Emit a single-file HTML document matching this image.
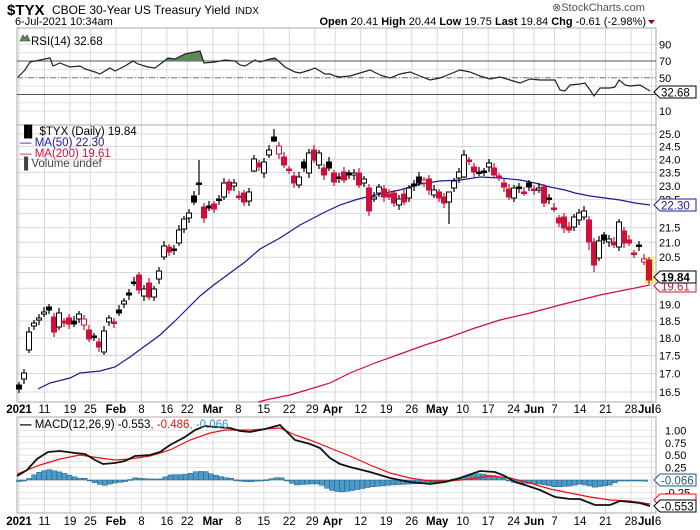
<!DOCTYPE html>
<html><head><meta charset="utf-8"><style>
body{margin:0;background:#fff}
svg{display:block;font-family:"Liberation Sans",sans-serif}
</style></head><body>
<svg id="c" width="700" height="530" xmlns="http://www.w3.org/2000/svg">
<rect width="700" height="530" fill="#fff"/>
<g id="grid"></g>
<g id="layer"></g>
<text x="7" y="15" font-size="15" font-weight="bold">$TYX</text>
<text x="52" y="14" font-size="12">CBOE 30-Year US Treasury Yield</text>
<text x="235" y="14" font-size="10">INDX</text>
<text x="552" y="11" font-size="11" fill="#555">⊗StockCharts.com</text>
<text x="15" y="25" font-size="11">6-Jul-2021 10:34am</text>
<text x="646" y="25" font-size="11" text-anchor="end"><tspan font-weight="bold">Open</tspan> 20.41 <tspan font-weight="bold">High</tspan> 20.44 <tspan font-weight="bold">Low</tspan> 19.75 <tspan font-weight="bold">Last</tspan> 19.84 <tspan font-weight="bold">Chg</tspan> -0.61 (-2.98%)</text>
<path d="M648,20 l7,0 l-3.5,4z" fill="#8b0020"/>
</svg>
<script>
const NS="http://www.w3.org/2000/svg";
const G=document.getElementById('grid'),L=document.getElementById('layer');
function el(p,t,a,txt){const e=document.createElementNS(NS,t);for(const k in a)e.setAttribute(k,a[k]);if(txt!==undefined)e.textContent=txt;p.appendChild(e);return e;}
const X0=17,X1=656;
const py=p=>2132.9-621*Math.log(p);
const ry=v=>119.5-0.835*v;
const my=v=>480-49.6*v;
const days=[0,5,10,14,19,24,29,33,38,43,48,53,58,62,67,72,77,82,87,92,97,101,105,110,115,120,124];
const vx=days.map(d=>X0+2+d*5.1);
const panels=[[28,125],[125,402],[417,513]];
for(const [a,b] of panels){for(const x of vx)el(G,'line',{x1:x,x2:x,y1:a,y2:b,stroke:'#d8d8d8','stroke-width':1});}
for(let v=10;v<=90;v+=10)el(G,'line',{x1:X0,x2:X1,y1:ry(v),y2:ry(v),stroke:'#e0e0e0'});
for(let p=16.5;p<=25.01;p+=0.5){const y=py(p);el(G,'line',{x1:X0,x2:X1,y1:y,y2:y,stroke:'#d8d8d8'});
 if(Math.abs(p-19.5)>0.1&&Math.abs(p-22)>0.1&&Math.abs(p-20)>0.1)el(G,'text',{x:659,y:y+4,'font-size':11},p.toFixed(1));}
for(let v=-0.5;v<=1.01;v+=0.125){el(G,'line',{x1:X0,x2:X1,y1:my(v),y2:my(v),stroke:'#e2e2e2'});}
[[1,'1.00'],[0.75,'0.75'],[0.5,'0.50'],[0.25,'0.25'],[-0.25,'-0.25']].forEach(([v,t])=>el(G,'text',{x:665,y:my(v)+4,'font-size':11},t));
[[90,'90'],[70,'70'],[50,'50'],[10,'10']].forEach(([v,t])=>el(G,'text',{x:659,y:ry(v)+4,'font-size':11},t));
for(const [a,b] of panels)el(G,'rect',{x:X0,y:a,width:X1-X0,height:b-a,fill:'none',stroke:'#aaa'});
el(G,'line',{x1:X0,x2:X1,y1:ry(70),y2:ry(70),stroke:'#555'});
el(G,'line',{x1:X0,x2:X1,y1:ry(30),y2:ry(30),stroke:'#555'});
el(G,'line',{x1:X0,x2:X1,y1:ry(50),y2:ry(50),stroke:'#777','stroke-dasharray':'6,2,1,2'});
const labs=[[0,'2021',1],[5,'11'],[10,'19'],[14,'25'],[19,'Feb',1],[24,'8'],[29,'16'],[33,'22'],[38,'Mar',1],[43,'8'],[48,'15'],[53,'22'],[57.5,'29'],[61.5,'Apr',1],[67,'12'],[72,'19'],[77,'26'],[82,'May',1],[87,'10'],[92,'17'],[97,'24'],[101,'Jun',1],[105,'7'],[110,'14'],[115,'21'],[120,'28'],[123,'Jul',1],[125.3,'6']];
for(const yy of [413,525])for(const [d,t,b] of labs)el(G,'text',{x:X0+2+d*5.1,y:yy,'font-size':11.5,'text-anchor':'middle','font-weight':b?'bold':'normal'},t);
const rsi=[[18,77],[25,70],[30,62],[40,60],[50,58],[53,66],[60,63],[70,67],[80,66],[85,69],[95,72],[100,74],[110,68],[115,71],[125,66],[133,61],[138,64],[148,67],[155,68],[163,62],[168,58],[175,59],[185,54],[200,51],[204,63],[215,62],[225,60],[235,61],[240,65],[245,66],[255,60],[260,62],[270,59],[275,58],[285,67],[295,72],[300,73],[310,70],[315,68],[320,71],[325,74],[330,74],[335,76],[340,77],[350,76],[360,73],[370,70],[380,75],[390,78],[400,74],[410,72],[420,76],[430,80],[440,78],[450,74],[460,70],[470,72],[480,76],[490,79],[500,77],[510,80],[520,83],[530,79],[540,80],[555,80],[560,90],[565,91],[570,85],[580,84],[585,83],[590,90],[594,96],[600,88],[610,88],[615,87],[619,80],[625,85],[630,86],[640,85],[645,88],[650,91]];
el(L,'path',{d:'M163,61 L168,58 L175,59 L185,54 L200,51 L204,61 Z',fill:'#5e8a5a'});
el(L,'path',{d:'M266,61 L270,59 L275,58 L280,61 Z',fill:'#5e8a5a'});
el(L,'polyline',{points:rsi.map(p=>p.join(',')).join(' '),fill:'none',stroke:'#222','stroke-width':1.2});
el(L,'path',{d:'M20,41 l3,-6 l2,3 l2,-3 l3,6z',fill:'#5e8a5a',stroke:'#333','stroke-width':0.6});
el(L,'text',{x:31,y:45,'font-size':11.5},'RSI(14) 32.68');
const ma50=[[38,389],[50,383],[70,378],[80,373],[100,371],[115,367],[130,357],[145,346],[160,335],[175,321],[185,311],[200,296],[215,284],[230,273],[245,262],[260,249],[280,238],[300,225],[325,212],[340,205],[355,200],[370,196],[385,193],[400,190],[420,184],[440,181],[460,180],[480,177],[500,178],[520,180],[535,183],[550,187],[565,190],[575,193],[590,196],[605,198],[620,200],[635,203],[650,205]];
const ma200=[[258,402],[270,399],[290,395],[310,389],[330,383],[350,373],[375,363],[400,354],[425,345],[450,337],[475,328],[500,320],[530,313],[560,305],[580,300],[600,295],[625,290],[650,285]];
el(L,'polyline',{points:ma50.map(p=>p.join(',')).join(' '),fill:'none',stroke:'#1a1a9a','stroke-width':1.2});
el(L,'polyline',{points:ma200.map(p=>p.join(',')).join(' '),fill:'none',stroke:'#d0103a','stroke-width':1.2});
const C=`19:385:389:B 24:373:379:W 29:332:350:W 34:323:326:W 39:318:320:W 44:312:314:W 49:307:310:B 54:317:332:R 59:313:327:W 64:321:323:R 69:318:324:R 74:321:324:B 79:314:319:W 84:319:325:H 89:330:339:R 94:336:337:B 99:342:347:R 104:331:352:W 109:318:322:W 114:322:323:R 119:310:313:B 124:301:304:W 129:293:295:B 134:282:283:B 139:275:290:R 144:289:296:W 149:283:297:R 154:289:297:W 159:271:279:W 164:246:257:W 169:247:252:R 174:249:250:B 179:230:243:W 184:219:229:W 189:213:218:W 194:196:202:B 199:183:184:B 204:207:218:R 209:206:208:B 214:204:209:R 219:199:200:B 224:183:197:W 229:182:190:R 234:183:186:W 239:196:197:R 244:193:202:R 249:192:201:W 254:159:171:W 259:163:167:R 264:162:173:W 269:150:155:W 274:137:141:B 279:146:154:H 284:157:165:R 289:169:170:R 294:176:183:R 299:177:185:W 304:162:168:B 309:153:173:W 314:150:160:R 319:153:165:W 324:168:175:R 329:162:168:B 334:173:182:R 339:177:178:B 344:172:180:R 349:173:175:B 354:173:175:W 359:173:185:R 364:179:183:W 369:188:211:R 374:197:199:W 379:187:193:W 384:189:197:R 389:194:197:R 394:193:203:R 399:199:205:W 404:194:202:R 409:188:198:W 414:184:186:B 419:177:183:B 424:180:183:H 429:179:190:R 434:190:195:W 439:192:198:R 444:197:203:R 449:192:202:W 454:181:188:W 459:172:178:W 464:155:177:W 469:160:161:R 474:167:172:R 479:172:173:B 484:171:172:B 489:163:167:W 494:168:175:R 499:176:177:R 504:183:187:R 509:189:197:R 514:188:198:W 519:187:188:B 524:192:193:R 529:183:187:B 534:189:190:R 539:188:190:W 544:187:203:R 549:198:199:B 554:208:209:R 559:218:223:R 564:217:228:R 569:227:230:R 574:217:227:W 579:213:220:W 584:211:217:W 589:220:242:R 594:242:265:R 599:241:258:W 604:235:240:B 609:239:242:W 614:242:245:R 619:222:247:W 624:231:243:R 629:240:243:R 634:253:254:R 639:245:246:B 644:259:262:H 649:260:280:R`;
const special={199:[160,195],449:[192,224],274:[129,142],254:[155,172],464:[150,178],589:[216,250],594:[238,272]};
el(L,'rect',{x:645,y:257,width:9,height:27,fill:'#f0ef60'});
C.split(/\s+/).forEach((s,i)=>{const [x,t,b,k]=s.split(':');const X=+x,T=+t,B=+b;
 const col=(k=='R'||k=='H')?'#d0103a':'#000';
 let w=special[X]||[T-3-(i%3),B+3+((i+1)%3)];
 el(L,'line',{x1:X,x2:X,y1:w[0],y2:w[1],stroke:col,'stroke-width':1.2});
 const h=Math.max(B-T,1.5);
 const fill=(k=='W'||k=='H')?'#fff':col;
 el(L,'rect',{x:X-2.5,y:T,width:5,height:h,fill:fill,stroke:col,'stroke-width':1});
});
el(L,'text',{x:20,y:135,'font-size':11.5},'\u2590\u258C $TYX (Daily) 19.84');
el(L,'text',{x:20,y:146,'font-size':11.5,fill:'#1a1a9a'},'\u2014 MA(50) 22.30');
el(L,'text',{x:20,y:157,'font-size':11.5,fill:'#d0103a'},'\u2014 MA(200) 19.61');
el(L,'text',{x:20,y:167,'font-size':11.5,fill:'#444'},'\u2590 Volume undef');
function tag(y,txt,col,bold){el(L,'path',{d:`M654,${y} l6,-6 h36 v12 h-36 z`,fill:'#fff',stroke:col});
 el(L,'text',{x:661,y:y+4.5,'font-size':11.5,fill:col,'font-weight':bold?'bold':'normal'},txt);}
tag(92,'32.68','#000');
tag(286,'19.61','#d0103a');
tag(205,'22.30','#1a1a9a');
tag(277,'19.84','#000',true);
const macd=[[17,476],[27,470],[37,459],[48,452],[60,451],[75,453],[85,454],[95,460],[103,464],[115,463],[125,461],[135,456],[150,455],[160,452],[170,445],[185,437],[195,430],[205,426],[215,427],[230,428],[240,431],[250,432],[265,429],[280,425],[295,440],[310,444],[320,448],[330,458],[340,464],[350,467],[370,472],[390,478],[410,482],[430,484],[445,482],[460,478],[480,471],[495,472],[505,476],[515,482],[525,485],[540,490],[555,497],[570,499],[580,499],[595,505],[610,505],[620,501],[640,503],[650,506]];
const sig=[[17,474],[40,465],[60,459],[80,455],[100,458],[115,460],[130,459],[150,456],[170,450],[190,440],[210,433],[225,430],[250,430],[280,428],[295,435],[310,440],[330,448],[350,456],[370,465],[390,473],[410,478],[430,481],[450,481],[470,479],[490,476],[510,478],[530,483],[550,489],[570,493],[590,497],[610,500],[630,501],[650,504]];
function interp(a,x){for(let i=1;i<a.length;i++)if(x<=a[i][0]){const[p,q]=[a[i-1],a[i]];return p[1]+(q[1]-p[1])*(x-p[0])/(q[0]-p[0]);}return a[a.length-1][1];}
for(let x=19;x<=650;x+=5.05){const d=interp(macd,x)-interp(sig,x);const y=480+d;
 el(L,'rect',{x:x-2.5,y:Math.min(480,y),width:5,height:Math.max(Math.abs(d),1),fill:'#4c9ac8',stroke:'#1d5a80','stroke-width':0.5});}
el(L,'polyline',{points:sig.map(p=>p.join(',')).join(' '),fill:'none',stroke:'#f01010','stroke-width':1.2});
el(L,'polyline',{points:macd.map(p=>p.join(',')).join(' '),fill:'none',stroke:'#111','stroke-width':1.8});
el(L,'text',{x:20,y:428,'font-size':11.5},'').innerHTML='<tspan font-weight="bold">\u2014</tspan> MACD(12,26,9) -0.553<tspan fill="#f01010">, -0.486</tspan><tspan fill="#3a8fc8">, -0.066</tspan>';
tag(480,'-0.066','#1d5a80');
el(L,'path',{d:'M654,500 l6,-6 h36 v12 h-36 z',fill:'#fff',stroke:'#f01010'});
tag(506,'-0.553','#000');
</script>
</body></html>
